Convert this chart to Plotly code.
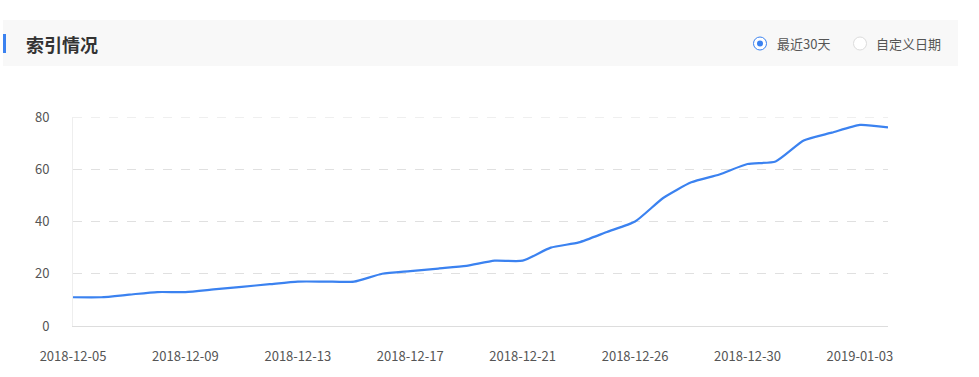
import plotly.graph_objects as go

# ---- data ----
dates = [
    "2018-12-05", "2018-12-06", "2018-12-07", "2018-12-08", "2018-12-09",
    "2018-12-10", "2018-12-11", "2018-12-12", "2018-12-13", "2018-12-14",
    "2018-12-15", "2018-12-16", "2018-12-17", "2018-12-18", "2018-12-19",
    "2018-12-20", "2018-12-21", "2018-12-22", "2018-12-23", "2018-12-24",
    "2018-12-26", "2018-12-27", "2018-12-28", "2018-12-29", "2018-12-30",
    "2018-12-31", "2019-01-01", "2019-01-02", "2019-01-03", "2019-01-04",
]
index_counts = [11, 11, 12, 13, 13, 14, 15, 16, 17, 17,
                17, 20, 21, 22, 23, 25, 25, 30, 32, 36,
                40, 49, 55, 58, 62, 63, 71, 74, 77, 76]
tick_dates = dates[::4][:8]
y_ticks = [0, 20, 40, 60, 80]

title_text = "索引情况"
radio_labels = ["最近30天", "自定义日期"]

# ---- layout geometry (pixels) ----
W, H = 979, 377
L, R, T, B = 73, 888, 117, 326
PW, PH = R - L, B - T


def px(x):
    return (x - L) / PW


def py(y):
    return (B - y) / PH


fig = go.Figure()
fig.add_trace(go.Scatter(
    x=dates, y=index_counts, mode="lines",
    line=dict(color="#3b82f0", width=2.2, shape="spline", smoothing=0.55),
    hoverinfo="x+y", showlegend=False,
))

font_main = "Noto Sans CJK SC, Microsoft YaHei, sans-serif"

shapes = [
    # header background
    dict(type="rect", xref="paper", yref="paper", layer="below",
         x0=px(3), x1=px(958), y0=py(66), y1=py(20),
         fillcolor="#f8f8f8", line=dict(width=0)),
    # blue accent bar
    dict(type="rect", xref="paper", yref="paper",
         x0=px(3), x1=px(6), y0=py(53), y1=py(34),
         fillcolor="#3b82f0", line=dict(width=0)),
    # radio 1 outer
    dict(type="circle", xref="paper", yref="paper",
         x0=px(753.5), x1=px(766.5), y0=py(50), y1=py(37),
         fillcolor="#ffffff", line=dict(color="#3b82f0", width=1)),
    # radio 1 inner dot
    dict(type="circle", xref="paper", yref="paper",
         x0=px(757), x1=px(763), y0=py(46.5), y1=py(40.5),
         fillcolor="#3b82f0", line=dict(width=0)),
    # radio 2 outer
    dict(type="circle", xref="paper", yref="paper",
         x0=px(853.5), x1=px(866.5), y0=py(50), y1=py(37),
         fillcolor="#ffffff", line=dict(color="#dcdcdc", width=1)),
    # top gridline (plotly drops grid at the exact plot edge)
    dict(type="line", xref="paper", yref="y", layer="below",
         x0=0, x1=1, y0=y_ticks[-1], y1=y_ticks[-1],
         line=dict(color="#e0e0e0", width=1, dash="dash")),
]

annotations = [
    dict(text=f"<b>{title_text}</b>", xref="paper", yref="paper",
         x=px(24), y=py(44), xanchor="left", yanchor="middle", showarrow=False,
         font=dict(family=font_main, size=18, color="#333333")),
    dict(text=radio_labels[0], xref="paper", yref="paper",
         x=px(775), y=py(43.5), xanchor="left", yanchor="middle", showarrow=False,
         font=dict(family=font_main, size=13, color="#555555")),
    dict(text=radio_labels[1], xref="paper", yref="paper",
         x=px(874), y=py(43.5), xanchor="left", yanchor="middle", showarrow=False,
         font=dict(family=font_main, size=13, color="#555555")),
]

fig.update_layout(
    width=W, height=H,
    margin=dict(l=L, r=W - R, t=T, b=H - B, pad=0),
    paper_bgcolor="#ffffff", plot_bgcolor="#ffffff",
    font=dict(family=font_main, size=12, color="#555555"),
    shapes=shapes, annotations=annotations,
    showlegend=False,
)

fig.update_xaxes(
    type="category", range=[0, len(dates) - 1],
    tickmode="array", tickvals=tick_dates, ticktext=tick_dates,
    showgrid=False, showline=True, linecolor="#dddddd", linewidth=1,
    ticks="", ticklen=0, tickfont=dict(size=13, color="#555555"),
    ticklabelstandoff=18,
    zeroline=False,
)
fig.update_yaxes(
    range=[0, 80], tickmode="array", tickvals=y_ticks,
    showgrid=True, gridcolor="#e0e0e0", griddash="dash", gridwidth=1,
    showline=True, linecolor="#eeeeee", linewidth=1,
    zeroline=False, ticks="", tickfont=dict(size=13, color="#555555"),
    ticklabelstandoff=20,
)

fig.write_html("out.html")
